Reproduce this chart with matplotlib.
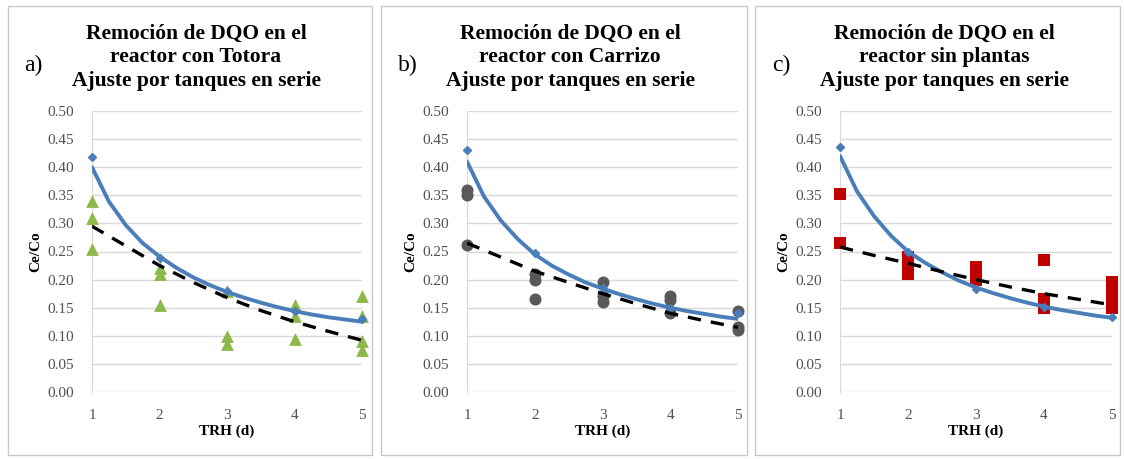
import matplotlib.pyplot as plt
from matplotlib.patches import Rectangle

# observed Ce/Co values per reactor
x_a = [1, 1, 1, 2, 2, 2, 3, 3, 3, 4, 4, 4, 5, 5, 5, 5]
y_a = [0.34, 0.31, 0.255, 0.22, 0.21, 0.155, 0.18, 0.10, 0.085, 0.155, 0.135, 0.095, 0.17, 0.135, 0.09, 0.075]

x_b = [1, 1, 1, 2, 2, 2, 3, 3, 3, 4, 4, 4, 5, 5, 5]
y_b = [0.36, 0.35, 0.262, 0.21, 0.20, 0.165, 0.195, 0.16, 0.17, 0.17, 0.163, 0.14, 0.145, 0.115, 0.11]

x_c = [1, 1, 2, 2, 2, 3, 3, 3, 4, 4, 4, 5, 5, 5, 5]
y_c = [0.352, 0.265, 0.24, 0.23, 0.21, 0.222, 0.21, 0.20, 0.235, 0.165, 0.15, 0.195, 0.18, 0.162, 0.15]

# model points (diamonds) at integer TRH
trh = [1, 2, 3, 4, 5]
pts_a = [0.418, 0.238, 0.18, 0.145, 0.13]
pts_b = [0.43, 0.247, 0.185, 0.15, 0.14]
pts_c = [0.436, 0.25, 0.183, 0.152, 0.133]

# fitted curves
xc = [1, 1.25, 1.5, 1.75, 2, 2.25, 2.5, 2.75, 3, 3.25, 3.5, 3.75, 4, 4.25, 4.5, 4.75, 5]
blue_a = [0.40, 0.339, 0.297, 0.265, 0.241, 0.221, 0.204, 0.19, 0.178, 0.168, 0.159, 0.151, 0.144,
          0.138, 0.133, 0.129, 0.125]
blue_b = [0.41, 0.348, 0.305, 0.272, 0.245, 0.225, 0.209, 0.195, 0.184, 0.174, 0.165, 0.157, 0.15,
          0.144, 0.139, 0.134, 0.13]
blue_c = [0.42, 0.357, 0.313, 0.278, 0.25, 0.23, 0.213, 0.198, 0.186, 0.176, 0.167, 0.159, 0.152,
          0.146, 0.141, 0.136, 0.132]
xd = [1, 1.5, 2, 2.5, 3, 3.5, 4, 4.5, 5]
dash_a = [0.295, 0.26, 0.225, 0.195, 0.168, 0.145, 0.125, 0.108, 0.092]
dash_b = [0.265, 0.24, 0.215, 0.195, 0.175, 0.157, 0.14, 0.127, 0.115]
dash_c = [0.258, 0.243, 0.229, 0.214, 0.20, 0.187, 0.175, 0.165, 0.155]

titles = ["Remoción de DQO en el\nreactor con Totora\nAjuste por tanques en serie",
          "Remoción de DQO en el\nreactor con Carrizo\nAjuste por tanques en serie",
          "Remoción de DQO en el\nreactor sin plantas\nAjuste por tanques en serie"]
letters = ["a)", "b)", "c)"]
yticks = [0.0, 0.05, 0.10, 0.15, 0.20, 0.25, 0.30, 0.35, 0.40, 0.45, 0.50]

W, H = 1124, 459
fig = plt.figure(figsize=(W / 100, H / 100), dpi=100)
plt.rcParams['font.family'] = ['Liberation Serif', 'DejaVu Serif']

boxes = [(8, 372), (381, 747), (755, 1120)]
axes_lr = [(92, 362), (467, 738), (840, 1112)]
title_cx = [196, 570, 944]
letter_x = [24, 398, 772]

series = [
    (x_a, y_a, '^', '#8DB84A', 85, pts_a, blue_a, dash_a),
    (x_b, y_b, 'o', '#595959', 75, pts_b, blue_b, dash_b),
    (x_c, y_c, 's', '#C00000', 70, pts_c, blue_c, dash_c),
]

for i in range(3):
    bx0, bx1 = boxes[i]
    fig.patches.append(Rectangle((bx0 / W, 1 - 455 / H), (bx1 - bx0) / W, (455 - 6) / H,
                                 transform=fig.transFigure, fill=False,
                                 edgecolor='#C8C8C8', linewidth=1.0))
    l, r = axes_lr[i]
    ax = fig.add_axes([l / W, 1 - 392 / H, (r - l) / W, (392 - 111) / H])
    xs, ys, mk, col, ms, pts, blue, dash = series[i]
    ax.scatter(xs, ys, marker=mk, s=ms, color=col, zorder=3, clip_on=False, linewidths=0)
    ax.plot(xc, blue, color='#4A7EBB', linewidth=2.8, zorder=4, solid_capstyle='round')
    ax.plot(trh, pts, marker='D', markersize=4, linestyle='none', color='#4A7EBB', zorder=4,
            clip_on=False)
    ax.plot(xd, dash, color='black', linewidth=2.4, linestyle=(0, (4, 3)), zorder=5)

    ax.set_xlim(1, 5)
    ax.set_ylim(0, 0.5)
    ax.set_yticks(yticks)
    ax.set_yticklabels(['%.2f' % v for v in yticks])
    ax.set_xticks(trh)
    ax.grid(axis='y', color='#D9D9D9', linewidth=1)
    ax.set_axisbelow(True)
    for s in ['top', 'right', 'bottom']:
        ax.spines[s].set_visible(False)
    ax.spines['left'].set_color('#D9D9D9')
    ax.tick_params(axis='y', length=0, labelsize=11, colors='#505050', pad=13)
    ax.tick_params(axis='x', length=0, labelsize=11, colors='#505050', pad=12)
    ax.set_ylabel('Ce/Co', fontweight='bold', fontsize=11, labelpad=4)
    ax.set_xlabel('TRH (d)', fontweight='bold', fontsize=11, labelpad=2)

    fig.text(title_cx[i] / W, 1 - 24 / H, titles[i], ha='center', va='top',
             fontsize=15.5, fontweight='bold', linespacing=1.22)
    fig.text(letter_x[i] / W, 1 - 65 / H, letters[i], ha='left', va='center', fontsize=17)

fig.savefig('out.png', dpi=100)
